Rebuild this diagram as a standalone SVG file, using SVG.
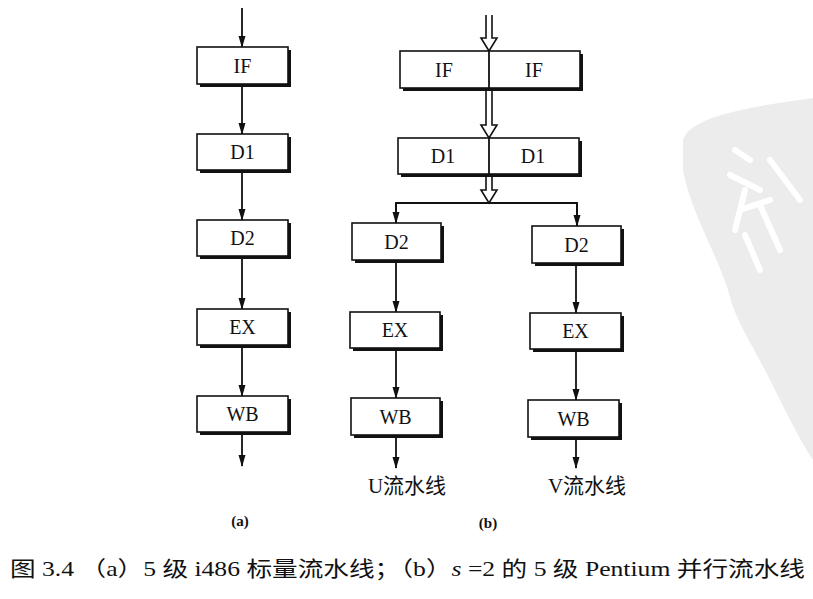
<svg xmlns="http://www.w3.org/2000/svg" width="813" height="599" viewBox="0 0 813 599">
<style>
.box{fill:#fff;stroke:#111;stroke-width:1.6}
.sh{fill:#111}
.lbl{font-family:"Liberation Serif","Times New Roman",serif;font-size:20px;fill:#111;text-anchor:middle}
.ln{stroke:#111;stroke-width:1.8;fill:none}
.dbl{stroke:#111;stroke-width:1.6;fill:#fff}
.cap{font-family:"Liberation Serif","Noto Sans CJK SC",serif;fill:#111}
</style>
<defs>
<marker id="a" markerWidth="12" markerHeight="8" refX="11" refY="4" orient="auto" markerUnits="userSpaceOnUse">
<path d="M0,0.5 L12,4 L0,7.5 Z" fill="#111"/>
</marker>
</defs>
<rect width="813" height="599" fill="#fff"/>
<g id="watermark">
<path d="M683,140 C690,118 740,108 813,98 L813,460 C800,440 790,420 770,380 C750,340 735,320 728,290 C715,250 690,210 683,170 Z" fill="#ececec"/>
<path d="M735,150 L750,160 M730,175 L760,190 M745,190 L735,230 M740,210 L770,200 M760,205 L780,250 M745,235 L760,270 M770,160 L800,200" stroke="#fff" stroke-width="6" fill="none" stroke-linecap="round"/>
</g>
<g id="connectors">
<line class="ln" x1="242" y1="8" x2="242" y2="47" marker-end="url(#a)"/>
<line class="ln" x1="242" y1="85" x2="242" y2="134" marker-end="url(#a)"/>
<line class="ln" x1="242" y1="171" x2="242" y2="220" marker-end="url(#a)"/>
<line class="ln" x1="242" y1="257" x2="242" y2="309" marker-end="url(#a)"/>
<line class="ln" x1="242" y1="347" x2="242" y2="396" marker-end="url(#a)"/>
<line class="ln" x1="242" y1="433" x2="242" y2="466" marker-end="url(#a)"/>
<path class="dbl" d="M486,15 V38 H481 L489,51 L497,38 H492 V15"/>
<path class="dbl" d="M486,89 V125 H481 L489,138 L497,125 H492 V89"/>
<path class="dbl" d="M486,175 V190 H481 L489,203 L497,190 H492 V175"/>
<polyline class="ln" points="396,223 396,203 577,203 577,226"/>
<line class="ln" x1="396" y1="203" x2="396" y2="223" marker-end="url(#a)"/>
<line class="ln" x1="577" y1="203" x2="577" y2="226" marker-end="url(#a)"/>
<line class="ln" x1="396" y1="261" x2="396" y2="312" marker-end="url(#a)"/>
<line class="ln" x1="396" y1="349" x2="396" y2="398" marker-end="url(#a)"/>
<line class="ln" x1="396" y1="436" x2="396" y2="468" marker-end="url(#a)"/>
<line class="ln" x1="576" y1="263" x2="576" y2="313" marker-end="url(#a)"/>
<line class="ln" x1="576" y1="350" x2="576" y2="400" marker-end="url(#a)"/>
<line class="ln" x1="576" y1="438" x2="576" y2="468" marker-end="url(#a)"/>
</g>
<g id="a-IF"><rect class="sh" x="200" y="50" width="91" height="37"/><rect class="box" x="197" y="47" width="91" height="37"/><text class="lbl" x="242.5" y="73">IF</text></g>
<g id="a-D1"><rect class="sh" x="200" y="137" width="91" height="36"/><rect class="box" x="197" y="134" width="91" height="36"/><text class="lbl" x="242.5" y="159">D1</text></g>
<g id="a-D2"><rect class="sh" x="200" y="223" width="91" height="36"/><rect class="box" x="197" y="220" width="91" height="36"/><text class="lbl" x="242.5" y="245">D2</text></g>
<g id="a-EX"><rect class="sh" x="200" y="312" width="91" height="36"/><rect class="box" x="197" y="309" width="91" height="36"/><text class="lbl" x="242.5" y="334">EX</text></g>
<g id="a-WB"><rect class="sh" x="200" y="399" width="91" height="36"/><rect class="box" x="197" y="396" width="91" height="36"/><text class="lbl" x="242.5" y="421">WB</text></g>
<g id="b-IF"><rect class="sh" x="403" y="54" width="180" height="37"/><rect class="box" x="400" y="51" width="180" height="37"/><line class="ln" x1="489" y1="51" x2="489" y2="88" stroke-width="1.2"/><text class="lbl" x="444" y="77">IF</text><text class="lbl" x="534" y="77">IF</text></g>
<g id="b-D1"><rect class="sh" x="401" y="141" width="181" height="36"/><rect class="box" x="398" y="138" width="181" height="36"/><line class="ln" x1="489" y1="138" x2="489" y2="174" stroke-width="1.2"/><text class="lbl" x="443" y="163">D1</text><text class="lbl" x="533" y="163">D1</text></g>
<g id="u-D2"><rect class="sh" x="355" y="226" width="89" height="37"/><rect class="box" x="352" y="223" width="89" height="37"/><text class="lbl" x="396.5" y="249">D2</text></g>
<g id="u-EX"><rect class="sh" x="353" y="315" width="90" height="36"/><rect class="box" x="350" y="312" width="90" height="36"/><text class="lbl" x="395" y="337">EX</text></g>
<g id="u-WB"><rect class="sh" x="354" y="401" width="89" height="37"/><rect class="box" x="351" y="398" width="89" height="37"/><text class="lbl" x="395.5" y="424">WB</text></g>
<g id="v-D2"><rect class="sh" x="535" y="229" width="89" height="37"/><rect class="box" x="532" y="226" width="89" height="37"/><text class="lbl" x="576.5" y="252">D2</text></g>
<g id="v-EX"><rect class="sh" x="533" y="316" width="91" height="36"/><rect class="box" x="530" y="313" width="91" height="36"/><text class="lbl" x="575.5" y="338">EX</text></g>
<g id="v-WB"><rect class="sh" x="531" y="403" width="91" height="37"/><rect class="box" x="528" y="400" width="91" height="37"/><text class="lbl" x="573.5" y="426">WB</text></g>
<g id="labels">
<text class="cap" x="407" y="493" font-size="21" text-anchor="middle">U流水线</text>
<text class="cap" x="587" y="493" font-size="21" text-anchor="middle">V流水线</text>
<text class="cap" x="240" y="526" font-size="15" font-weight="bold" text-anchor="middle">(a)</text>
<text class="cap" x="488" y="528" font-size="15" font-weight="bold" text-anchor="middle">(b)</text>
<text class="cap" x="10" y="576" font-size="21" textLength="795" lengthAdjust="spacingAndGlyphs">图 3.4 （a）5 级 i486 标量流水线；（b）<tspan font-style="italic">s</tspan> =2 的 5 级 Pentium 并行流水线</text>
</g>
</svg>
